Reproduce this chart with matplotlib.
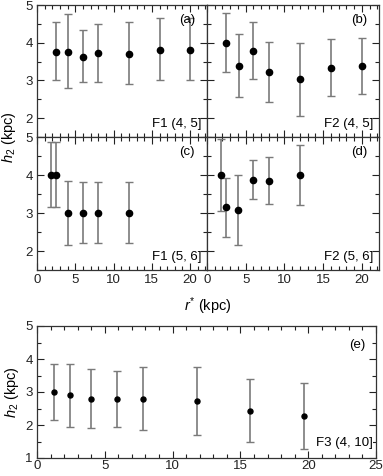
import matplotlib
matplotlib.use("Agg")
import matplotlib.pyplot as plt
from matplotlib.ticker import MultipleLocator

plt.rcParams['font.family'] = ['Liberation Sans', 'DejaVu Sans']
plt.rcParams['mathtext.fontset'] = 'custom'
plt.rcParams['mathtext.rm'] = 'Liberation Sans'
plt.rcParams['mathtext.it'] = 'Liberation Sans:italic'

# ---- data ----
xa = [2.5, 4.0, 6.0, 8.0, 12.0, 16.0, 20.0]
ya = [3.76, 3.76, 3.63, 3.72, 3.71, 3.81, 3.81]
ya_lo = [3.01, 2.80, 2.96, 2.96, 2.91, 3.00, 3.00]
ya_hi = [4.54, 4.75, 4.35, 4.50, 4.54, 4.65, 4.65]

xb = [2.5, 4.1, 6.0, 8.0, 12.0, 16.0, 20.0]
yb = [4.00, 3.39, 3.79, 3.22, 3.04, 3.34, 3.39]
yb_lo = [3.22, 2.57, 3.04, 2.42, 2.07, 2.60, 2.64]
yb_hi = [4.79, 4.22, 4.54, 4.02, 4.00, 4.10, 4.13]

xc = [1.8, 2.5, 4.0, 6.0, 8.0, 12.0]
yc = [4.00, 4.00, 3.00, 3.00, 3.00, 3.00]
yc_lo = [3.16, 3.16, 2.16, 2.20, 2.20, 2.20]
yc_hi = [4.86, 4.86, 3.85, 3.82, 3.82, 3.82]

xd = [1.8, 2.5, 4.0, 6.0, 8.0, 12.0]
yd = [4.00, 3.16, 3.08, 3.87, 3.85, 4.00]
yd_lo = [3.04, 2.38, 2.15, 3.36, 3.23, 3.21]
yd_hi = [4.94, 3.91, 4.00, 4.39, 4.47, 4.80]

xe = [1.25, 2.4, 3.95, 5.9, 7.85, 11.8, 15.7, 19.7]
ye = [3.00, 2.90, 2.80, 2.80, 2.80, 2.73, 2.43, 2.28]
ye_lo = [2.15, 1.95, 1.90, 1.95, 1.85, 1.71, 1.48, 1.28]
ye_hi = [3.85, 3.85, 3.70, 3.65, 3.75, 3.75, 3.38, 3.28]

panel_tags = ['(a)', '(b)', '(c)', '(d)', '(e)']
field_tags = ['F1 (4, 5]', 'F2 (4, 5]', 'F1 (5, 6]', 'F2 (5, 6]', 'F3 (4, 10]']

W, H = 383, 476
fig = plt.figure(figsize=(W / 100, H / 100), dpi=100)


def rect(x0, y0, x1, y1):
    return [x0 / W, 1 - y1 / H, (x1 - x0) / W, (y1 - y0) / H]


FS = 9.5
ERRC = '#7a7a7a'


def style(ax, xlim, ylim, xmaj, xlabels, ylabels, xpad=3):
    ax.set_xlim(*xlim)
    ax.set_ylim(*ylim)
    ax.xaxis.set_major_locator(MultipleLocator(xmaj))
    ax.xaxis.set_minor_locator(MultipleLocator(1))
    ax.yaxis.set_major_locator(MultipleLocator(1))
    ax.yaxis.set_minor_locator(MultipleLocator(0.5))
    ax.tick_params(which='both', direction='in', top=True, right=True,
                   labelsize=FS, colors='#222222', pad=3)
    ax.tick_params(axis='x', which='both', pad=xpad)
    ax.tick_params(which='major', length=5, width=0.8)
    ax.tick_params(which='minor', length=3, width=0.8)
    if not xlabels:
        ax.tick_params(labelbottom=False)
    if not ylabels:
        ax.tick_params(labelleft=False)
    for s in ax.spines.values():
        s.set_linewidth(0.9)
        s.set_color('#333333')


def plot(ax, x, y, lo, hi, ms):
    yerr = [[v - l for v, l in zip(y, lo)], [h - v for v, h in zip(y, hi)]]
    ax.errorbar(x, y, yerr=yerr, fmt='none', ecolor=ERRC, elinewidth=1.2,
                capsize=3, capthick=1.0, zorder=2)
    ax.plot(x, y, 'o', color='black', ms=ms, zorder=3)


axa = fig.add_axes(rect(37, 5, 207, 137))
axb = fig.add_axes(rect(207, 5, 379, 137))
axc = fig.add_axes(rect(37, 137, 207, 270))
axd = fig.add_axes(rect(207, 137, 379, 270))
axe = fig.add_axes(rect(37, 326, 376, 458))

data = [(axa, xa, ya, ya_lo, ya_hi), (axb, xb, yb, yb_lo, yb_hi),
        (axc, xc, yc, yc_lo, yc_hi), (axd, xd, yd, yd_lo, yd_hi)]
for i, (ax, x, y, lo, hi) in enumerate(data):
    plot(ax, x, y, lo, hi, 4.5)
    style(ax, (0, 22.2), (1.5, 5), 5, xlabels=(i >= 2), ylabels=(i % 2 == 0))
    ax.text(0.93, 0.93, panel_tags[i], transform=ax.transAxes, ha='right',
            va='top', fontsize=FS)
    ax.text(0.97, 0.05, field_tags[i], transform=ax.transAxes, ha='right',
            va='bottom', fontsize=FS)

plot(axe, xe, ye, ye_lo, ye_hi, 3.6)
style(axe, (0, 25), (1, 5), 5, xlabels=True, ylabels=True, xpad=1.5)
axe.text(0.97, 0.90, panel_tags[4], transform=axe.transAxes, ha='right',
         va='top', fontsize=FS)
axe.text(0.99, 0.07, field_tags[4], transform=axe.transAxes, ha='right',
         va='bottom', fontsize=FS,
         bbox=dict(facecolor='white', edgecolor='none', pad=0.5))
axe.set_ylabel('$h_2$ (kpc)', fontsize=FS + 1, labelpad=3)

fig.text(9 / W, 1 - 137 / H, '$h_2$ (kpc)', rotation=90, ha='center',
         va='center', fontsize=FS + 1)
fig.text(208 / W, 1 - 306 / H, '$r^{*}$ (kpc)', ha='center', va='center',
         fontsize=FS + 1)

fig.savefig('out.png', dpi=100)
